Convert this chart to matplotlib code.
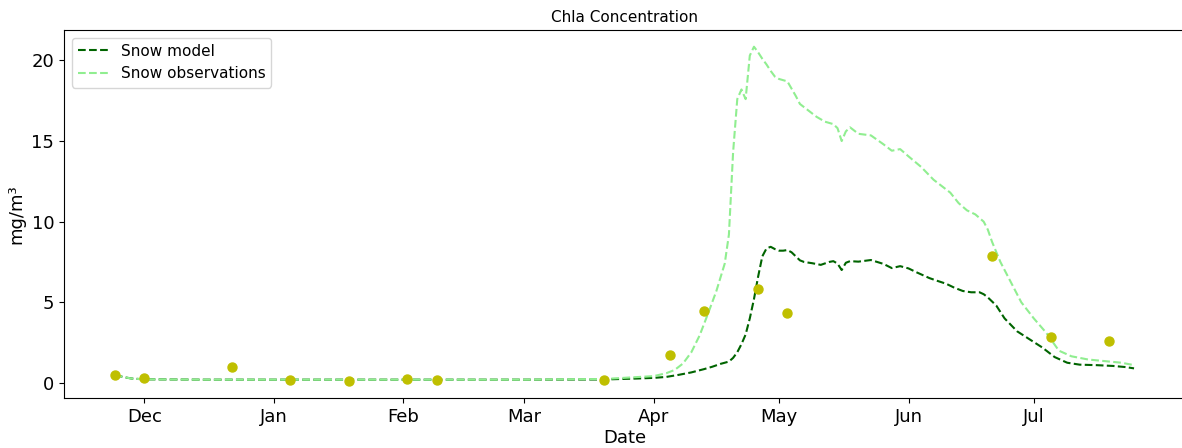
import matplotlib
matplotlib.use("Agg")
import matplotlib.pyplot as plt
import matplotlib.dates as mdates
import pandas as pd

# ---- data ----
model_dates = ["2023-11-24", "2023-11-26", "2023-11-28", "2023-12-01", "2023-12-15",
               "2024-01-01", "2024-02-01", "2024-03-01", "2024-03-20", "2024-03-24",
               "2024-03-28", "2024-04-01", "2024-04-04", "2024-04-07", "2024-04-10",
               "2024-04-13", "2024-04-15", "2024-04-17", "2024-04-19", "2024-04-20",
               "2024-04-21", "2024-04-22", "2024-04-23", "2024-04-24", "2024-04-25",
               "2024-04-26", "2024-04-27", "2024-04-28", "2024-04-29", "2024-04-30",
               "2024-05-01", "2024-05-02", "2024-05-03", "2024-05-04", "2024-05-05",
               "2024-05-06", "2024-05-07", "2024-05-09", "2024-05-11", "2024-05-13",
               "2024-05-14", "2024-05-15", "2024-05-16", "2024-05-17", "2024-05-18",
               "2024-05-20", "2024-05-23", "2024-05-26", "2024-05-28", "2024-05-30",
               "2024-06-01", "2024-06-03", "2024-06-06", "2024-06-08", "2024-06-10",
               "2024-06-12", "2024-06-14", "2024-06-16", "2024-06-18", "2024-06-19",
               "2024-06-20", "2024-06-22", "2024-06-24", "2024-06-27", "2024-06-30",
               "2024-07-03", "2024-07-06", "2024-07-09", "2024-07-12", "2024-07-16",
               "2024-07-20", "2024-07-23", "2024-07-25"]
model_values = [0.5, 0.36, 0.27, 0.22, 0.2,
                0.2, 0.2, 0.2, 0.21, 0.24,
                0.27, 0.31, 0.37, 0.5, 0.65,
                0.85, 1.0, 1.18, 1.32, 1.55,
                1.9, 2.4, 3.0, 4.0, 5.2,
                6.6, 7.85, 8.34, 8.44, 8.3,
                8.2, 8.2, 8.24, 8.1, 7.85,
                7.6, 7.5, 7.42, 7.32, 7.5,
                7.55, 7.4, 7.0, 7.45, 7.55,
                7.52, 7.62, 7.38, 7.12, 7.24,
                7.1, 6.85, 6.5, 6.32, 6.15,
                5.9, 5.7, 5.62, 5.62, 5.5,
                5.3, 4.8, 4.0, 3.2, 2.7,
                2.2, 1.6, 1.25, 1.13, 1.1,
                1.05, 0.98, 0.9]

obs_line_dates = ["2023-11-24", "2023-11-26", "2023-11-28", "2023-12-01", "2023-12-15",
                  "2024-01-01", "2024-02-01", "2024-03-01", "2024-03-20", "2024-03-24",
                  "2024-03-28", "2024-04-01", "2024-04-04", "2024-04-06", "2024-04-08",
                  "2024-04-10", "2024-04-12", "2024-04-14", "2024-04-16", "2024-04-18",
                  "2024-04-19", "2024-04-20", "2024-04-21", "2024-04-22", "2024-04-23",
                  "2024-04-24", "2024-04-25", "2024-04-26", "2024-04-27", "2024-04-28",
                  "2024-04-29", "2024-04-30", "2024-05-01", "2024-05-03", "2024-05-05",
                  "2024-05-06", "2024-05-08", "2024-05-10", "2024-05-12", "2024-05-14",
                  "2024-05-15", "2024-05-16", "2024-05-17", "2024-05-18", "2024-05-20",
                  "2024-05-23", "2024-05-26", "2024-05-28", "2024-05-30", "2024-06-01",
                  "2024-06-04", "2024-06-07", "2024-06-09", "2024-06-11", "2024-06-13",
                  "2024-06-15", "2024-06-17", "2024-06-19", "2024-06-20", "2024-06-21",
                  "2024-06-23", "2024-06-25", "2024-06-28", "2024-07-01", "2024-07-04",
                  "2024-07-07", "2024-07-10", "2024-07-14", "2024-07-18", "2024-07-22",
                  "2024-07-25"]
obs_line_values = [0.5, 0.36, 0.27, 0.22, 0.2,
                   0.2, 0.2, 0.2, 0.24, 0.3,
                   0.36, 0.42, 0.6, 0.8, 1.2,
                   1.9, 2.95, 4.3, 5.7, 7.4,
                   9.2, 14.3, 17.6, 18.2, 17.6,
                   20.3, 20.85, 20.5, 20.1, 19.75,
                   19.35, 19.0, 18.85, 18.7, 17.8,
                   17.3, 16.9, 16.5, 16.2, 16.05,
                   15.8, 15.0, 15.6, 15.85, 15.45,
                   15.35, 14.8, 14.4, 14.5, 14.05,
                   13.4, 12.6, 12.2, 11.8, 11.15,
                   10.7, 10.45, 10.0, 9.5, 8.75,
                   7.5, 6.5, 5.0, 4.0, 3.1,
                   2.0, 1.65, 1.45, 1.35, 1.25,
                   1.1]

sample_dates = ["2023-11-24", "2023-12-01", "2023-12-22", "2024-01-05", "2024-01-19",
                "2024-02-02", "2024-02-09", "2024-03-20", "2024-04-05", "2024-04-13",
                "2024-04-26", "2024-05-03", "2024-06-21", "2024-07-05", "2024-07-19"]
sample_values = [0.5, 0.3, 1.0, 0.2, 0.1,
                 0.22, 0.15, 0.2, 1.73, 4.43,
                 5.82, 4.35, 7.86, 2.87, 2.58]

month_ticks = ["2023-12-01", "2024-01-01", "2024-02-01", "2024-03-01",
               "2024-04-01", "2024-05-01", "2024-06-01", "2024-07-01"]

title = "Chla Concentration"
xlabel = "Date"
ylabel = "mg/m³"
legend_labels = ["Snow model", "Snow observations"]

# ---- plot ----
plt.rcParams['font.family'] = ['DejaVu Sans']
fig = plt.figure(figsize=(11.82, 4.48), dpi=100)
ax = fig.add_axes([64 / 1182, 50 / 448, 1121 / 1182, 368 / 448])

ax.plot(pd.to_datetime(model_dates), model_values, color='darkgreen',
        linestyle='--', linewidth=1.5, label=legend_labels[0])
ax.plot(pd.to_datetime(obs_line_dates), obs_line_values, color='lightgreen',
        linestyle='--', linewidth=1.5, label=legend_labels[1])
ax.scatter(pd.to_datetime(sample_dates), sample_values, color='y', s=42, zorder=3)

ax.set_xticks(pd.to_datetime(month_ticks))
ax.xaxis.set_major_formatter(mdates.DateFormatter('%b'))
ax.tick_params(axis='both', labelsize=13)
ax.set_xlabel(xlabel, fontsize=13, labelpad=2)
ax.set_ylabel(ylabel, fontsize=13)
ax.set_title(title, fontsize=11)
ax.legend(loc='upper left', fontsize=11)

fig.savefig("out.png", dpi=100)
